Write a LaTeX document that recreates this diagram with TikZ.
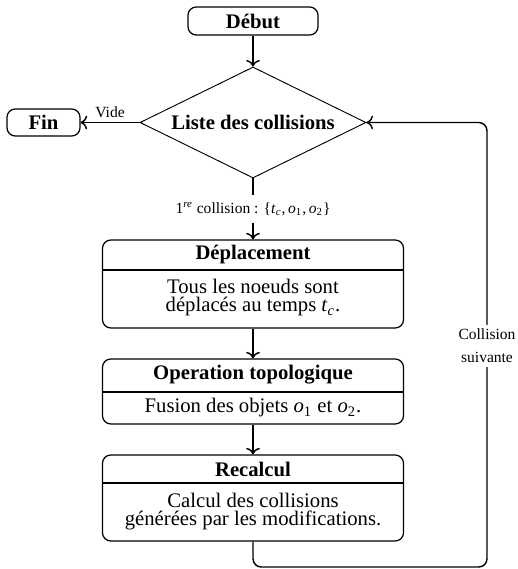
\documentclass[tikz,border=0pt]{standalone}
\usepackage{fontspec}
\setmainfont{Liberation Serif}
\usetikzlibrary{shapes.geometric,arrows.meta}
\newdimen\pxu
\pxu=0.483pt
\newcommand{\vtc}{\textit{t}\textsubscript{\textit{c}}}
\newcommand{\vo}[1]{\textit{o}\textsubscript{#1}}
\begin{document}
\begin{tikzpicture}[x=0.483pt,y=-0.483pt,
  term/.style={draw,rounded corners=4pt,line width=0.6pt,inner sep=0pt,font=\bfseries},
  decis/.style={draw,diamond,aspect=2.04,inner sep=0pt,line width=0.45pt,font=\bfseries,
     minimum width=226\pxu,minimum height=111\pxu},
  procbox/.style={draw,rounded corners=4pt,line width=0.6pt,inner sep=0pt,minimum width=301\pxu},
  head/.style={font=\bfseries,inner sep=0pt},
  body/.style={align=center,inner sep=0pt,font=\fontsize{10}{10.2}\selectfont},
  lbl/.style={font=\fontsize{7.5}{10.5}\selectfont,inner sep=1pt},
  conn/.style={line width=0.7pt},
  arr/.style={conn,->}]
\useasboundingbox (0,0) rectangle (517,569);

\node[term,minimum width=130\pxu,minimum height=28\pxu] (debut) at (253,21) {Début};
\node[decis] (liste) at (253,122.5) {Liste des collisions};
\node[term,minimum width=73\pxu,minimum height=27\pxu] (fin) at (43.5,122.5) {Fin};

\node[lbl,inner sep=3pt] (coll) at (253,209) {1\textsuperscript{\textit{re}} collision : \{\vtc,\,\vo{1},\,\vo{2}\}};

% Deplacement
\node[procbox,minimum height=88\pxu] (dep) at (253,284) {};
\coordinate (depl) at (102,270);
\draw[line width=0.6pt] (dep.west |- depl) -- (dep.east |- depl);
\node[head] (deph) at (253,255) {Déplacement};
\node[body] (depb) at (253,298) {Tous les noeuds sont\\[-1.5pt]déplacés au temps \vtc.};

% Operation
\node[procbox,minimum height=65\pxu] (op) at (253,391.5) {};
\coordinate (opl) at (102,392);
\draw[line width=0.6pt] (op.west |- opl) -- (op.east |- opl);
\node[head] (oph) at (253,375) {Operation topologique};
\node[body] (opb) at (253,408) {Fusion des objets \vo{1} et \vo{2}.};

% Recalcul
\node[procbox,minimum height=86\pxu] (rec) at (253,498) {};
\coordinate (recl) at (102,483);
\draw[line width=0.6pt] (rec.west |- recl) -- (rec.east |- recl);
\node[head] (rech) at (253,469) {Recalcul};
\node[body] (recb) at (253,511.5) {Calcul des collisions\\[-1.5pt]générées par les modifications.};

% connectors
\draw[arr] (debut) -- (liste);
\draw[arr] (liste.west) -- node[lbl,above,pos=0.5,yshift=1pt] (vide) {Vide} (fin.east);
\draw[conn] (liste.south) -- (coll.north);
\draw[arr] (coll.south) -- (dep.north);
\draw[arr] (dep.south) -- (op.north);
\draw[arr] (op.south) -- (rec.north);

\coordinate (b1) at (253,567);
\coordinate (b2) at (487,567);
\coordinate (b3) at (487,122.5);
\draw[conn,rounded corners=4pt] (rec.south) -- (b1) -- (b2) -- (b3) -- (liste.east);
\draw[arr] (b3) ++(-60,0) -- (liste.east);
\node[lbl,fill=white,align=center,inner sep=2pt,font=\fontsize{7.5}{11}\selectfont] (suiv) at (487,346) {Collision\\suivante};
\end{tikzpicture}
\end{document}
